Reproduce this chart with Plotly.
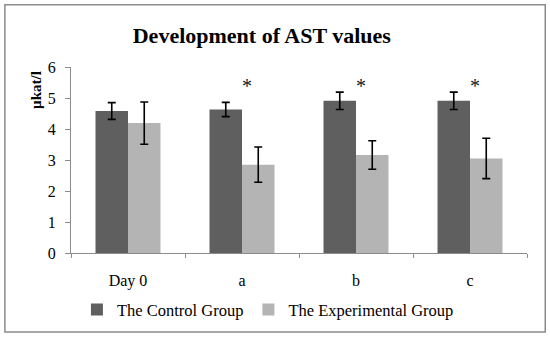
import plotly.graph_objects as go

categories = ["Day 0", "a", "b", "c"]
control_values = [4.58, 4.63, 4.91, 4.91]
control_errors = [0.27, 0.23, 0.28, 0.28]
experimental_values = [4.19, 2.85, 3.16, 3.05]
experimental_errors = [0.68, 0.57, 0.46, 0.65]
significance = ["", "*", "*", "*"]
significance_y = 5.47
y_ticks = [0, 1, 2, 3, 4, 5, 6]

FONT = "Liberation Serif, serif"

fig = go.Figure()
fig.add_trace(go.Bar(
    x=categories, y=control_values, name="The Control Group",
    marker=dict(color="#5f5f5f", line=dict(width=0)),
    error_y=dict(type="data", array=control_errors, color="black", thickness=1.6, width=4),
))
fig.add_trace(go.Bar(
    x=categories, y=experimental_values, name="The Experimental Group",
    marker=dict(color="#b4b4b4", line=dict(width=0)),
    error_y=dict(type="data", array=experimental_errors, color="black", thickness=1.6, width=4),
))

for cat, s in zip(categories, significance):
    if s:
        fig.add_annotation(x=cat, y=significance_y, text=s, showarrow=False,
                           xshift=5, yshift=-3, font=dict(family=FONT, size=20, color="#111827"))

fig.add_annotation(xref="paper", yref="paper", x=-0.077, y=0.876, xanchor="center", yanchor="middle",
                   text="<b>µkat/l</b>", textangle=-90, showarrow=False,
                   font=dict(family=FONT, size=15, color="black"))

fig.update_layout(
    width=550, height=340,
    margin=dict(l=71, r=23, t=67, b=87),
    paper_bgcolor="white", plot_bgcolor="white",
    barmode="group", bargap=0.43, bargroupgap=0,
    title=dict(text="<b>Development of AST values</b>", x=0.476, xanchor="center",
               y=0.895, yanchor="middle", font=dict(family=FONT, size=22, color="black")),
    font=dict(family=FONT, size=16, color="black"),
    showlegend=True,
    legend=dict(orientation="h", x=0.013, xanchor="left", y=-0.305, yanchor="middle",
                font=dict(family=FONT, size=16.5, color="black"), itemwidth=30),
    xaxis=dict(showline=True, linecolor="#8c8c8c", linewidth=1, ticks="outside",
               tickson="boundaries", ticklen=4, tickcolor="#8c8c8c", showgrid=False,
               ticklabelstandoff=13),
    yaxis=dict(range=[0, 6], tickvals=y_ticks, showline=True, linecolor="#8c8c8c",
               linewidth=1, ticks="outside", ticklen=5, tickcolor="#8c8c8c",
               showgrid=False, zeroline=False, ticklabelstandoff=6),
    shapes=[dict(type="rect", xref="paper", yref="paper", x0=-0.145, x1=1.04, y0=-0.425, y1=1.335,
                 line=dict(color="#8c8c8c", width=1.5), fillcolor="rgba(0,0,0,0)", layer="below")],
)

fig.write_html("out.html", config={"displayModeBar": False},
               post_script="document.body.style.margin='0';")
